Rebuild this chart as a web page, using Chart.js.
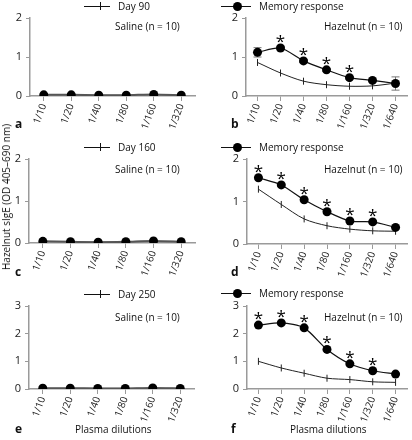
<!DOCTYPE html>
<html><head><meta charset="utf-8">
<script src="https://cdn.jsdelivr.net/npm/chart.js@4.4.0/dist/chart.umd.min.js"></script>
<style>
html,body{margin:0;padding:0;background:#fff;}
#wrap{position:relative;width:412px;height:440px;overflow:hidden;font-family:"Open Sans",sans-serif;color:#111;}
canvas{position:absolute;}
.t{position:absolute;white-space:nowrap;font-size:10px;line-height:12px;}
.lg{position:absolute;height:12px;}
.lg .ln{position:absolute;top:5.5px;height:1px;background:#111;}
.lg .dot{position:absolute;top:1.5px;width:9px;height:9px;border-radius:50%;background:#000;}
.lg .tk{position:absolute;top:2px;width:1px;height:8px;background:#111;}
.lt{position:absolute;font-weight:bold;font-size:12px;line-height:12px;}
</style></head><body>
<div id="wrap">
<canvas id="ca" width="206" height="140" style="left:0;top:0"></canvas>
<canvas id="cb" width="206" height="140" style="left:206px;top:0"></canvas>
<canvas id="cc" width="206" height="145" style="left:0;top:140px"></canvas>
<canvas id="cd" width="206" height="145" style="left:206px;top:140px"></canvas>
<canvas id="ce" width="206" height="155" style="left:0;top:285px"></canvas>
<canvas id="cf" width="206" height="155" style="left:206px;top:285px"></canvas>

<!-- legends -->
<div class="lg" style="left:84px;top:0px;width:120px"><div class="ln" style="left:0;width:26px"></div><div class="tk" style="left:16px"></div><span class="t" style="left:34px;top:0">Day 90</span></div>
<div class="lg" style="left:221px;top:0px;width:190px"><div class="ln" style="left:0;width:30px"></div><div class="dot" style="left:12px"></div><span class="t" style="left:38px;top:0">Memory response</span></div>
<div class="lg" style="left:84px;top:141px;width:120px"><div class="ln" style="left:0;width:26px"></div><div class="tk" style="left:16px"></div><span class="t" style="left:34px;top:0">Day 160</span></div>
<div class="lg" style="left:221px;top:141px;width:190px"><div class="ln" style="left:0;width:30px"></div><div class="dot" style="left:12px"></div><span class="t" style="left:38px;top:0">Memory response</span></div>
<div class="lg" style="left:84px;top:288px;width:120px"><div class="ln" style="left:0;width:26px"></div><div class="tk" style="left:16px"></div><span class="t" style="left:34px;top:0">Day 250</span></div>
<div class="lg" style="left:221px;top:287px;width:190px"><div class="ln" style="left:0;width:30px"></div><div class="dot" style="left:12px"></div><span class="t" style="left:38px;top:0">Memory response</span></div>

<span class="t" style="left:115px;top:20px">Saline (n = 10)</span>
<span class="t" style="left:324px;top:20px">Hazelnut (n = 10)</span>
<span class="t" style="left:115px;top:163px">Saline (n = 10)</span>
<span class="t" style="left:324px;top:163px">Hazelnut (n = 10)</span>
<span class="t" style="left:115px;top:311px">Saline (n = 10)</span>
<span class="t" style="left:324px;top:311px">Hazelnut (n = 10)</span>

<span class="lt" style="left:15px;top:118px">a</span>
<span class="lt" style="left:231px;top:118px">b</span>
<span class="lt" style="left:15px;top:266px">c</span>
<span class="lt" style="left:231px;top:266px">d</span>
<span class="lt" style="left:15px;top:423px">e</span>
<span class="lt" style="left:231px;top:423px">f</span>

<span class="t" style="left:75px;top:423px">Plasma dilutions</span>
<span class="t" style="left:290px;top:423px">Plasma dilutions</span>

<span class="t" style="left:6px;top:197px;transform:translate(-50%,-50%) rotate(-90deg);">Hazelnut sIgE (OD 405–690 nm)</span>
</div>
<script>
// ---- data ----
const dilSaline = ["1/10","1/20","1/40","1/80","1/160","1/320"];
const dilHazel  = ["1/10","1/20","1/40","1/80","1/160","1/320","1/640"];

const salineMem90  = [0.03,0.03,0.02,0.02,0.04,0.02];
const salineDay90  = [0.02,0.02,0.02,0.02,0.03,0.02];
const hazelMem90   = [1.12,1.23,0.90,0.67,0.47,0.40,0.32];
const hazelDay90   = [0.86,0.59,0.38,0.29,0.25,0.26,0.33];
const hazelErr90   = [0.12,0.05,0.04,0.04,0.03,0.03,0.17];
const hazelSig90   = [0,1,1,1,1,0,0];

const salineMem160 = [0.04,0.03,0.02,0.03,0.05,0.03];
const salineDay160 = [0.03,0.03,0.03,0.03,0.04,0.03];
const hazelMem160  = [1.56,1.39,1.04,0.76,0.54,0.52,0.39];
const hazelDay160  = [1.29,0.93,0.59,0.43,0.35,0.31,0.30];
const hazelSig160  = [1,1,1,1,1,1,0];

const salineMem250 = [0.03,0.03,0.02,0.02,0.04,0.02];
const salineDay250 = [0.02,0.02,0.02,0.02,0.03,0.02];
const hazelMem250  = [2.31,2.39,2.21,1.43,0.91,0.66,0.54];
const hazelDay250  = [1.00,0.76,0.57,0.39,0.34,0.26,0.24];
const hazelSig250  = [1,1,1,1,1,1,0];

const yTicks2 = [0,1,2];
const yTicks3 = [0,1,2,3];

// ---- drawing ----
const FONT = "'Open Sans', sans-serif";
const AXIS = '#9a9a9a';

const extrasPlugin = {
  id: 'extras',
  beforeDatasetsDraw(chart) {
    const o = chart.options.plugins.extras || {};
    if (!o.err) return;
    const ctx = chart.ctx;
    const xs = chart.scales.x, ys = chart.scales.y;
    const mem = chart.data.datasets[0].data;
    ctx.save();
    ctx.strokeStyle = '#777'; ctx.lineWidth = 1;
    o.err.forEach((e, i) => {
      if (!e) return;
      const x = xs.getPixelForValue(i);
      const y1 = ys.getPixelForValue(mem[i] + e), y2 = ys.getPixelForValue(mem[i] - e);
      ctx.beginPath();
      ctx.moveTo(x, y1); ctx.lineTo(x, y2);
      ctx.moveTo(x - 4, y1); ctx.lineTo(x + 4, y1);
      ctx.moveTo(x - 4, y2); ctx.lineTo(x + 4, y2);
      ctx.stroke();
    });
    ctx.restore();
  },
  afterDatasetsDraw(chart) {
    const o = chart.options.plugins.extras || {};
    if (!o.sig) return;
    const ctx = chart.ctx;
    const xs = chart.scales.x, ys = chart.scales.y;
    const mem = chart.data.datasets[0].data;
    ctx.save();
    ctx.fillStyle = '#000';
    ctx.font = "17px " + FONT;
    ctx.textAlign = 'center'; ctx.textBaseline = 'alphabetic';
    o.sig.forEach((s, i) => {
      if (!s) return;
      const x = xs.getPixelForValue(i);
      const y = ys.getPixelForValue(mem[i]) - 1;
      ctx.fillText('*', x, y);
    });
    ctx.restore();
  }
};

function panel(id, cfg) {
  const cv = document.getElementById(id);
  const W = cv.width, H = cv.height;
  const saline = cfg.saline;
  new Chart(cv, {
    type: 'line',
    data: {
      labels: cfg.labels,
      datasets: [
        { data: cfg.mem, borderColor: saline ? '#555' : '#111', borderWidth: saline ? 2 : 1.2,
          pointStyle: 'circle', pointRadius: 4.5, pointBackgroundColor: '#000', pointBorderColor: '#000',
          pointBorderWidth: 0, tension: 0.25, order: 1 },
        { data: cfg.day, borderColor: saline ? '#999' : '#222', borderWidth: saline ? 1.5 : 1,
          pointStyle: 'line', pointRotation: 90, pointRadius: saline ? 0 : 3.5, pointBorderColor: '#222',
          pointBorderWidth: 1, tension: 0.3, order: 2 }
      ]
    },
    options: {
      responsive: false, animation: false, devicePixelRatio: 1,
      layout: { padding: { left: 0, top: cfg.top, right: W - cfg.right, bottom: 0 } },
      plugins: { legend: { display: false }, tooltip: { enabled: false },
                 extras: { err: cfg.err, sig: cfg.sig } },
      scales: {
        x: {
          type: 'category', offset: true,
          afterFit: s => { s.height = H - cfg.bottom; },
          grid: { display: true, drawOnChartArea: false, drawTicks: true, tickLength: 5, color: AXIS, lineWidth: 1 },
          border: { display: true, color: AXIS, width: 1.5 },
          ticks: { minRotation: 70, maxRotation: 70, autoSkip: false, padding: 1, color: '#222',
                   font: { size: 10, family: FONT } }
        },
        y: {
          min: 0, max: cfg.yt[cfg.yt.length - 1],
          afterFit: s => { s.width = cfg.left; },
          afterBuildTicks: s => { s.ticks = cfg.yt.map(v => ({ value: v })); },
          grid: { display: true, drawOnChartArea: false, drawTicks: true, tickLength: 4, color: AXIS, lineWidth: 1 },
          border: { display: true, color: AXIS, width: 1.5 },
          ticks: { padding: 4, color: '#222', font: { size: 11, family: FONT } }
        }
      }
    },
    plugins: [extrasPlugin]
  });
}

panel('ca', { labels: dilSaline, mem: salineMem90, day: salineDay90, saline: true, yt: yTicks2, left: 30, right: 195, top: 18, bottom: 96 });
panel('cb', { labels: dilHazel, mem: hazelMem90, day: hazelDay90, err: hazelErr90, sig: hazelSig90, yt: yTicks2, left: 40, right: 205, top: 18, bottom: 96 });
panel('cc', { labels: dilSaline, mem: salineMem160, day: salineDay160, saline: true, yt: yTicks2, left: 29, right: 195, top: 19, bottom: 103 });
panel('cd', { labels: dilHazel, mem: hazelMem160, day: hazelDay160, sig: hazelSig160, yt: yTicks2, left: 41, right: 205, top: 19, bottom: 104 });
panel('ce', { labels: dilSaline, mem: salineMem250, day: salineDay250, saline: true, yt: yTicks3, left: 29, right: 194, top: 21, bottom: 104 });
panel('cf', { labels: dilHazel, mem: hazelMem250, day: hazelDay250, sig: hazelSig250, yt: yTicks3, left: 41, right: 205, top: 21, bottom: 104 });
</script>
</body></html>
